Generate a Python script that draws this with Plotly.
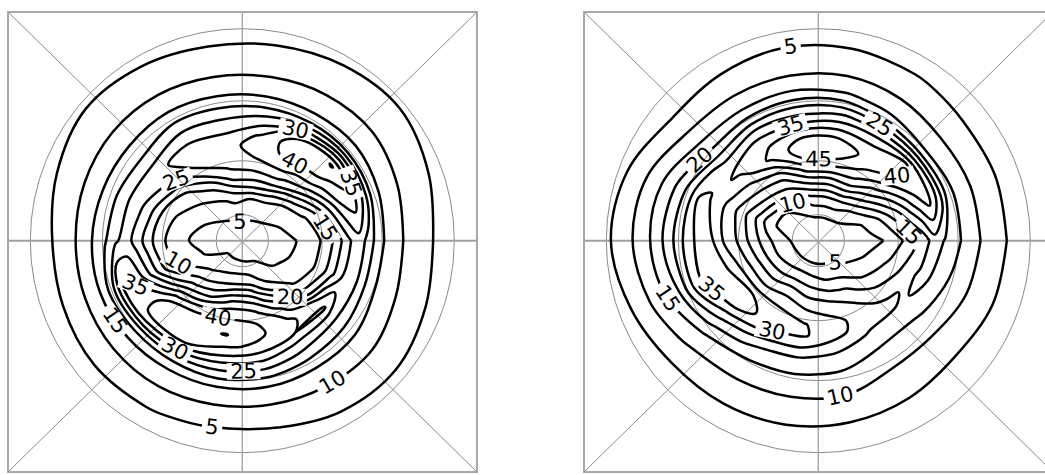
import numpy as np
import plotly.graph_objects as go

# Sample radii (outer graticule circle = 1) and azimuths (degrees, counter-clockwise from east)
RADII = [0, 0.1, 0.2, 0.25, 0.3, 0.35, 0.4, 0.45, 0.5, 0.55, 0.6, 0.65, 0.7, 0.8, 0.9, 1.0]
AZIMUTHS = [0, 20, 40, 60, 80, 100, 120, 140, 160, 180, 200, 220, 240, 260, 280, 300, 320, 340]

# Field values, one row per azimuth, one column per radius
Z_LEFT = [
    [1, 2.5, 4.0, 4.8, 6.5, 8.7, 12, 17.5, 23.8, 28.3, 22.5, 16.5, 12.8, 8.2, 5.0, 1.8],
    [1, 3.1, 5.4, 7.1, 8.9, 12.5, 20, 27.9, 35, 37.9, 30, 18.1, 13.6, 9.0, 6.0, 3.1],
    [1, 4.0, 7.6, 9.6, 16.7, 25, 32.5, 38.8, 42.2, 45.4, 33.8, 19.5, 14.8, 10, 7.1, 4.1],
    [1, 4.7, 9.1, 16, 25, 32, 37, 41, 43.5, 40, 28.8, 18.5, 14.3, 9.7, 6.7, 3.6],
    [1, 5.2, 10, 19.2, 26.3, 31.7, 35.5, 38.3, 35.7, 30, 24.4, 18.5, 14.2, 9.2, 6.1, 3.0],
    [1, 5.5, 11.3, 18.3, 26.3, 30.6, 32.1, 32.3, 30.7, 27.5, 23.2, 18.6, 14.4, 9.2, 6.0, 2.7],
    [1, 4.6, 9.1, 12.5, 17.5, 25, 30.5, 33.2, 31.5, 28.2, 23.6, 19.2, 15, 9.7, 6.6, 3.4],
    [1, 3.7, 7.1, 9.2, 11.9, 15, 21.3, 26.5, 29.4, 25.3, 20.9, 17.6, 14.8, 9.9, 6.9, 4.0],
    [1, 3, 5, 6.8, 8.6, 10.8, 15, 21, 25.6, 26.4, 22.3, 18.3, 15, 9.6, 6.1, 2.5],
    [1, 2.5, 4.1, 4.8, 6.8, 9.1, 12.7, 17.8, 23, 27.3, 24, 19.3, 15.7, 9.1, 4.8, 1.5],
    [1, 3.1, 5.3, 7, 8.7, 11, 16.3, 23.3, 30, 34.2, 36.2, 23.8, 16.1, 9.3, 5.0, 1.7],
    [1, 5.4, 9.6, 13.3, 18.8, 25.8, 34.2, 40.8, 43.5, 41.5, 33.8, 21.3, 15.5, 9.6, 5.4, 1.9],
    [1, 5.4, 12.2, 17.5, 24.3, 33.3, 40.5, 43.2, 43.2, 40.5, 30, 20.7, 15, 9.6, 5.2, 1.6],
    [1, 5.3, 13.8, 23, 31.7, 38, 41.9, 45.3, 41, 35, 27.5, 21.3, 15, 9.1, 4.6, 1.2],
    [1, 5, 13.3, 22.1, 30, 36.4, 40, 41, 38.9, 33.1, 26.9, 20.6, 15, 9.1, 4.8, 1.3],
    [1, 4.6, 8.6, 12.1, 20, 27.5, 33.8, 36.2, 35, 29, 24, 19, 14.5, 9.6, 6.1, 2.5],
    [1, 3.1, 5.4, 7.1, 8.9, 12.5, 20, 31, 35.8, 27.5, 22.5, 18.3, 14.5, 10, 6.6, 3.1],
    [1, 2.7, 4.3, 5.4, 7.3, 9.2, 13, 18.8, 25, 28, 21.7, 16, 13, 8.8, 5.6, 2.5],
]

Z_RIGHT = [
    [1.5, 2.2, 3.5, 4.1, 4.7, 6.7, 10, 13.6, 17.1, 23, 19.4, 16.5, 13.4, 8.3, 4.6, 1],
    [1.5, 2.7, 4.5, 6.4, 10, 15, 20, 26.3, 32.5, 36.8, 28.3, 17.2, 13.1, 8.2, 4.6, 1],
    [1.5, 3.5, 9, 15, 21.3, 27.5, 33.8, 39, 41.6, 40, 28.3, 15.8, 12.5, 8.0, 4.5, 1],
    [1.5, 3.9, 13.3, 21.7, 30, 36.5, 41, 44, 41.7, 36.7, 28.3, 19.3, 13.8, 8.7, 5.3, 1.5],
    [1.5, 4.0, 13.6, 21.7, 30, 39, 46.3, 47.8, 44.6, 37.5, 30.7, 23.3, 15.7, 9.3, 5.7, 2],
    [1.5, 3.9, 12.9, 20.8, 29.2, 38, 46, 47.6, 44.3, 36.3, 30, 23.6, 16.4, 9.3, 5.9, 2.2],
    [1.5, 3.3, 7.7, 16.3, 22, 27.2, 35, 41.3, 39.3, 35.7, 30, 22.5, 16.1, 9.4, 5.4, 1.5],
    [1.5, 3, 5, 12.1, 18.8, 24, 28.3, 33, 36, 33.1, 27.2, 21.3, 16.7, 10, 5, 1],
    [1.5, 2.7, 4.5, 7.5, 13.8, 19, 24, 28.3, 32.1, 35.5, 35, 27.5, 22, 13.8, 7.8, 3],
    [1.5, 3.5, 8.3, 12.5, 16.8, 21.7, 26.4, 30, 35.3, 37.4, 34, 28.9, 23.3, 14.4, 8.6, 4],
    [1.5, 4.1, 10, 15, 20.6, 26, 31.4, 36.2, 38.5, 37, 33.8, 27.1, 20, 12.5, 7, 2],
    [1.5, 4.3, 12, 17.2, 22.3, 27.5, 35, 37, 35, 28.8, 23, 18.3, 14.4, 9.2, 5, 1.5],
    [1.5, 4.4, 13.8, 20, 25, 29.2, 32.3, 32.7, 28.8, 22.5, 18.1, 15, 12.5, 8.2, 4.6, 1],
    [1.5, 4.3, 13, 18, 22.5, 26.7, 30.4, 30.8, 26.3, 20.6, 17.2, 14.3, 12, 8, 4.3, 1],
    [1.5, 4.2, 11, 16, 21, 24.3, 27.3, 27, 22.5, 18.9, 16.1, 13.8, 11.7, 7.7, 3.8, 1],
    [1.5, 3.9, 10, 14.2, 17.9, 20.7, 22.3, 21.7, 19.4, 16.5, 14, 11.9, 9.8, 6.7, 3.7, 1],
    [1.5, 3.2, 6.2, 8.9, 12, 15.3, 18.7, 21.2, 19.2, 16.6, 14.2, 12.1, 10, 6.6, 3.1, 1],
    [1.5, 2.7, 4.4, 5.7, 8.4, 11.3, 14.4, 17.9, 21, 20, 16.9, 14, 11.5, 8.1, 4, 1],
]

LEVEL_START, LEVEL_END, LEVEL_STEP = 5, 45, 5
GRATICULE_RINGS = [0.123, 0.377, 0.66, 1.0]

# Frame of each panel in data units
BOX_X0, BOX_X1 = -1.105, 1.107
BOX_Y0, BOX_Y1 = -1.091, 1.079

W, H = 1045, 475

# Close the azimuth loop and build the polar carpet coordinates
az_closed = AZIMUTHS + [360]
A, B = np.meshgrid(RADII, az_closed)
X = (A * np.cos(np.radians(B))).tolist()
Y = (A * np.sin(np.radians(B))).tolist()

hidden_axis = dict(showgrid=False, showline=False, showticklabels="none",
                   startline=False, endline=False, minorgridcount=0,
                   gridcolor="rgba(0,0,0,0)", linecolor="rgba(0,0,0,0)",
                   smoothing=1)

fig = go.Figure()
panels = [(Z_LEFT, "x", "y"), (Z_RIGHT, "x2", "y2")]
for k, (z, xa, ya) in enumerate(panels):
    cid = f"polar{k}"
    fig.add_trace(go.Carpet(carpet=cid, a=RADII, b=az_closed, x=X, y=Y,
                            xaxis=xa, yaxis=ya,
                            aaxis=hidden_axis, baxis=hidden_axis))
    fig.add_trace(go.Contourcarpet(
        carpet=cid, a=RADII, b=az_closed, z=z + [z[0]],
        xaxis=xa, yaxis=ya,
        autocontour=False,
        contours=dict(start=LEVEL_START, end=LEVEL_END, size=LEVEL_STEP,
                      coloring="lines", showlabels=True,
                      labelfont=dict(family="DejaVu Sans", size=21, color="black")),
        line=dict(width=2.5, smoothing=1),
        colorscale=[[0, "black"], [1, "black"]],
        showscale=False))

shapes = []
for xa, ya in [("x", "y"), ("x2", "y2")]:
    ref = dict(xref=xa, yref=ya, layer="below")
    for r in GRATICULE_RINGS:
        shapes.append(dict(type="circle", x0=-r, x1=r, y0=-r, y1=r,
                           line=dict(color="#8a8a8a", width=1), **ref))
    shapes.append(dict(type="line", x0=BOX_X0, y0=BOX_Y0, x1=BOX_X1, y1=BOX_Y1,
                       line=dict(color="#8a8a8a", width=1), **ref))
    shapes.append(dict(type="line", x0=BOX_X0, y0=BOX_Y1, x1=BOX_X1, y1=BOX_Y0,
                       line=dict(color="#8a8a8a", width=1), **ref))
    shapes.append(dict(type="line", x0=BOX_X0, y0=0, x1=BOX_X1, y1=0,
                       line=dict(color="#a0a0a0", width=2), **ref))
    shapes.append(dict(type="line", x0=0, y0=BOX_Y0, x1=0, y1=BOX_Y1,
                       line=dict(color="#a0a0a0", width=1.3), **ref))
    shapes.append(dict(type="rect", x0=BOX_X0, y0=BOX_Y0, x1=BOX_X1, y1=BOX_Y1,
                       line=dict(color="#a8a8a8", width=2), **ref))

# Pixel-true placement: 212 px per unit radius in both panels
px = 212.0
ytop_px, ybot_px, yc_px = 10, 474, 240.7
ydom = [1 - ybot_px / H, 1 - ytop_px / H]
yrng = [-(ybot_px - yc_px) / px, (yc_px - ytop_px) / px]

def xaxis_for(left_px, right_px, center_px, anchor):
    return dict(domain=[left_px / W, right_px / W],
                range=[(left_px - center_px) / px, (right_px - center_px) / px],
                visible=False, fixedrange=True, anchor=anchor)

fig.update_layout(
    width=W, height=H,
    margin=dict(l=0, r=0, t=0, b=0),
    paper_bgcolor="white", plot_bgcolor="white",
    showlegend=False,
    xaxis=xaxis_for(6, 479, 242.3, "y"),
    yaxis=dict(domain=ydom, range=yrng, visible=False, fixedrange=True, anchor="x"),
    xaxis2=xaxis_for(582, 1045, 818.3, "y2"),
    yaxis2=dict(domain=ydom, range=yrng, visible=False, fixedrange=True, anchor="x2"),
    shapes=shapes,
)

fig.write_html("out.html")
